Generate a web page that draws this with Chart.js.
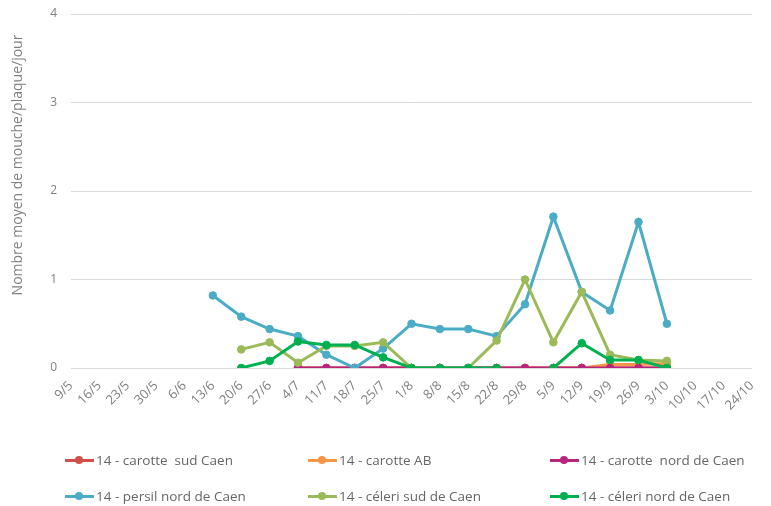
<!DOCTYPE html>
<html>
<head>
<meta charset="utf-8">
<script src="https://cdn.jsdelivr.net/npm/chart.js@4/dist/chart.umd.min.js"></script>
<style>
  html, body { margin: 0; padding: 0; background: #fff; }
  #wrap { position: relative; width: 771px; height: 506px; }
  #c { position: absolute; left: 0; top: 0; }
  .leg { position: absolute; font-family: "Open Sans", sans-serif; font-size: 13.5px; color: #666; white-space: pre; display: flex; align-items: center; height: 18px; }
  .mk { position: relative; width: 29px; height: 3px; margin-right: 2px; }
  .mk i { position: absolute; left: 10px; top: -2.5px; width: 8px; height: 8px; border-radius: 50%; }
</style>
</head>
<body>
<div id="wrap">
  <canvas id="c" width="771" height="506"></canvas>
  <div id="legend"></div>
</div>
<script>
const categories = ["9/5","16/5","23/5","30/5","6/6","13/6","20/6","27/6","4/7","11/7","18/7","25/7","1/8","8/8","15/8","22/8","29/8","5/9","12/9","19/9","26/9","3/10","10/10","17/10","24/10"];
const yTicks = [0, 1, 2, 3, 4];
const yTitle = "Nombre moyen de mouche/plaque/jour";

const carotteSud  = [null,null,null,null,null,null,null,null,0,0,0,0,0,0,0,0,0,0,0,0,0,0,null,null,null];
const carotteAB   = [null,null,null,null,null,null,null,null,0,0,0,0,0,0,0,0,0,0,0,0.04,0.04,0.05,null,null,null];
const carotteNord = [null,null,null,null,null,null,null,null,0,0,0,0,0,0,0,0,0,0,0,0,0,0,null,null,null];
const persilNord  = [null,null,null,null,null,0.82,0.58,0.44,0.36,0.15,0,0.22,0.5,0.44,0.44,0.36,0.72,1.71,0.86,0.65,1.65,0.5,null,null,null];
const celeriSud   = [null,null,null,null,null,null,0.21,0.29,0.06,0.25,0.25,0.29,0,0,0,0.31,1.0,0.29,0.86,0.15,0.09,0.08,null,null,null];
const celeriNord  = [null,null,null,null,null,null,0,0.08,0.3,0.26,0.26,0.12,0,0,0,0,null,0,0.28,0.09,0.09,0,null,null,null];

const seriesNames = ["14 - carotte  sud Caen","14 - carotte AB","14 - carotte  nord de Caen","14 - persil nord de Caen","14 - céleri sud de Caen","14 - céleri nord de Caen"];
const seriesData = [carotteSud, carotteAB, carotteNord, persilNord, celeriSud, celeriNord];
const colors = ["#d0504c","#f79646","#b5257c","#4bacc6","#9bbb59","#00b050"];

const datasets = seriesData.map((d, i) => ({
  label: seriesNames[i],
  data: d,
  borderColor: colors[i],
  backgroundColor: colors[i],
  pointBackgroundColor: colors[i],
  pointBorderColor: colors[i],
  borderWidth: 3,
  pointRadius: 3.8,
  pointBorderWidth: 1,
  tension: 0,
  spanGaps: false,
  order: 6 - i
}));

const yTitlePlugin = {
  id: 'yTitlePlugin',
  afterDraw(chart) {
    const ctx = chart.ctx;
    ctx.save();
    ctx.translate(18, 165);
    ctx.rotate(-Math.PI / 2);
    ctx.font = '14px "Open Sans"';
    ctx.fillStyle = '#7f7f7f';
    ctx.textAlign = 'center';
    ctx.textBaseline = 'middle';
    ctx.fillText(yTitle, 0, 0);
    ctx.restore();
  }
};

new Chart(document.getElementById('c'), {
  type: 'line',
  data: { labels: categories, datasets },
  plugins: [yTitlePlugin],
  options: {
    responsive: false,
    animation: false,
    layout: { padding: { left: 0, right: 19, top: 14, bottom: 0 } },
    plugins: { legend: { display: false }, tooltip: { enabled: false } },
    scales: {
      x: {
        offset: false,
        grid: { display: false, drawTicks: false },
        border: { display: false },
        ticks: {
          color: '#7f7f7f', font: { family: 'Open Sans', size: 13 },
          maxRotation: 45, minRotation: 45, autoSkip: false, padding: 10
        },
        afterFit: s => { s.height = 506 - 368; s.paddingLeft = 0; s.paddingRight = 0; }
      },
      y: {
        min: 0, max: 4,
        afterBuildTicks: s => { s.ticks = yTicks.map(v => ({ value: v })); },
        grid: { color: '#d9d9d9', lineWidth: 1, drawTicks: false },
        border: { display: false },
        ticks: { color: '#7f7f7f', font: { family: 'Open Sans', size: 12 }, padding: 14 },
        afterFit: s => { s.width = 71; s.paddingTop = 0; s.paddingBottom = 0; }
      }
    }
  }
});

// HTML legend in a 3-column grid
const legPos = [[65, 460], [308, 460], [550, 460], [65, 496], [308, 496], [550, 496]];
const legEl = document.getElementById('legend');
seriesNames.forEach((n, i) => {
  const d = document.createElement('div');
  d.className = 'leg';
  d.style.left = legPos[i][0] + 'px';
  d.style.top = (legPos[i][1] - 9) + 'px';
  const mk = document.createElement('span');
  mk.className = 'mk';
  mk.style.background = colors[i];
  const dot = document.createElement('i');
  dot.style.background = colors[i];
  mk.appendChild(dot);
  d.appendChild(mk);
  d.appendChild(document.createTextNode(n));
  legEl.appendChild(d);
});
</script>
</body>
</html>
